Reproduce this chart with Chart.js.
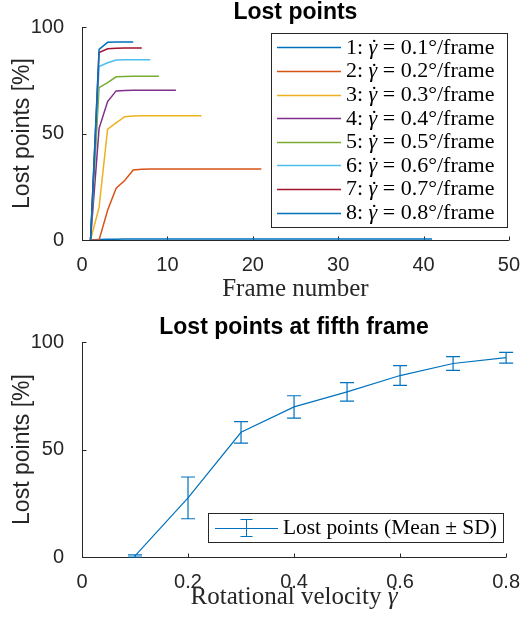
<!DOCTYPE html>
<html><head><meta charset="utf-8">
<script src="https://cdn.jsdelivr.net/npm/chart.js@4.4.0/dist/chart.umd.min.js"></script>
<style>
html,body{margin:0;padding:0;background:#fff;width:525px;height:626px;overflow:hidden}
canvas{position:absolute;left:0}
</style></head><body>
<canvas id="c1" width="525" height="313" style="top:0"></canvas>
<canvas id="c2" width="525" height="313" style="top:313px"></canvas>
<script>
// ---------- data ----------
const frameTicks = [0, 10, 20, 30, 40, 50];
const pctTicks = [0, 50, 100];
const velTicks = [0, 0.2, 0.4, 0.6, 0.8];
const seriesRates = ['0.1', '0.2', '0.3', '0.4', '0.5', '0.6', '0.7', '0.8'];
const lost01 = [0, 0.2, 0.3, 0.4, 0.5, 0.5, 0.5, 0.5, 0.5, 0.5, 0.5, 0.5, 0.5, 0.5, 0.5, 0.5, 0.5, 0.5, 0.5, 0.5,
                0.5, 0.5, 0.5, 0.5, 0.5, 0.5, 0.5, 0.5, 0.5, 0.5, 0.5, 0.5, 0.5, 0.5, 0.5, 0.5, 0.5, 0.5, 0.5, 0.5, 0.5];
const lost02 = [0, 0, 14, 24.3, 27.9, 32.9, 33.2, 33.3, 33.3, 33.3, 33.3, 33.3, 33.3, 33.3, 33.3, 33.3, 33.3, 33.3, 33.3, 33.3, 33.3];
const lost03 = [0, 15.3, 52, 55, 57.9, 58.2, 58.3, 58.3, 58.3, 58.3, 58.3, 58.3, 58.3, 58.3];
const lost04 = [0, 52.4, 65, 70, 70.2, 70.3, 70.3, 70.3, 70.3, 70.3, 70.3];
const lost05 = [0, 71.5, 73.9, 76.6, 76.8, 76.9, 76.9, 76.9, 76.9];
const lost06 = [0, 81.4, 83.2, 84.5, 84.6, 84.6, 84.6, 84.6];
const lost07 = [0, 88, 89.8, 90, 90.1, 90.1, 90.1];
const lost08 = [0, 89.5, 92.8, 93, 93, 93];
const lostSeries = [lost01, lost02, lost03, lost04, lost05, lost06, lost07, lost08];

const velocities = [0.1, 0.2, 0.3, 0.4, 0.5, 0.6, 0.7, 0.8];
const meanLost = [0.5, 27.5, 58, 69.8, 76.8, 84.4, 90, 92.7];
const sdLost = [0.5, 9.7, 5, 5.2, 4.3, 4.6, 3.2, 2.5];

// ---------- styles ----------
const colors = ['#0072BD', '#D95319', '#EDB120', '#7E2F8E', '#77AC30', '#4DBEEE', '#A2142F', '#0072BD'];
const AX = '#262626';
const SANS = '"Liberation Sans", Arial, sans-serif';
const SERIF = '"Liberation Serif", "Times New Roman", serif';

function drawRich(ctx, x, y, segs) {
  let cx = x;
  for (const s of segs) {
    if (s.g) {
      ctx.font = 'italic ' + s.size + 'px ' + SERIF;
      ctx.fillText('γ', cx, y);
      const w = ctx.measureText('γ').width;
      ctx.font = s.size + 'px ' + SERIF;
      const dw = ctx.measureText('˙').width;
      ctx.fillText('˙', cx + w / 2 - dw / 2 + s.size * 0.06, y + s.size * 0.02);
      cx += w;
    } else {
      ctx.font = s.font;
      ctx.fillText(s.t, cx, y);
      cx += ctx.measureText(s.t).width;
    }
  }
  return cx - x;
}
function richWidth(ctx, segs) {
  let w = 0;
  for (const s of segs) {
    if (s.g) { ctx.font = 'italic ' + s.size + 'px ' + SERIF; w += ctx.measureText('γ').width; }
    else { ctx.font = s.font; w += ctx.measureText(s.t).width; }
  }
  return w;
}

function axesPlugin(cfg) {
  return {
    id: 'matlabAxes',
    beforeDatasetsDraw(chart) {
      const ctx = chart.ctx, a = chart.chartArea;
      const xs = chart.scales.x, ys = chart.scales.y;
      ctx.save();
      ctx.strokeStyle = AX; ctx.lineWidth = 1;
      const b = Math.round(a.bottom) + 0.5, l = Math.round(a.left) + 0.5;
      ctx.beginPath();
      ctx.moveTo(a.left, b); ctx.lineTo(a.right, b);
      ctx.moveTo(l, a.top); ctx.lineTo(l, a.bottom + 0.5);
      cfg.xticks.forEach(v => { const px = Math.round(xs.getPixelForValue(v)) + 0.5; ctx.moveTo(px, b); ctx.lineTo(px, b - 4); });
      pctTicks.forEach(v => { const py = Math.round(ys.getPixelForValue(v)) + 0.5; ctx.moveTo(l, py); ctx.lineTo(l + 4, py); });
      ctx.stroke();
      ctx.restore();
    },
    afterDraw(chart) {
      const ctx = chart.ctx, a = chart.chartArea;
      const cx = (a.left + a.right) / 2;
      ctx.save();
      ctx.fillStyle = '#000';
      ctx.textAlign = 'center'; ctx.textBaseline = 'alphabetic';
      ctx.font = 'bold 23px ' + SANS;
      ctx.fillText(cfg.title, cx, cfg.titleY);
      // y title
      ctx.fillStyle = AX;
      ctx.save();
      ctx.translate(28.5, (a.top + a.bottom) / 2);
      ctx.rotate(-Math.PI / 2);
      ctx.font = '23px ' + SANS;
      ctx.fillText('Lost points [%]', 0, 0);
      ctx.restore();
      // x title
      ctx.textAlign = 'left';
      const w = richWidth(ctx, cfg.xTitle);
      drawRich(ctx, cx - w / 2, cfg.xTitleY, cfg.xTitle);
      ctx.restore();
      if (cfg.legend) cfg.legend(chart);
    }
  };
}

function baseOptions(cfg) {
  return {
    responsive: false, animation: false, devicePixelRatio: 1,
    layout: { padding: { top: cfg.top, right: 15, left: 0, bottom: 0 } },
    plugins: { legend: { display: false }, tooltip: { enabled: false } },
    elements: { point: { radius: 0 } },
    scales: {
      x: {
        type: 'linear', min: cfg.xmin, max: cfg.xmax,
        grid: { display: false }, border: { display: false },
        afterBuildTicks: s => { s.ticks = cfg.xticks.map(v => ({ value: v })); },
        afterFit: s => { s.height = cfg.xh; },
        ticks: { padding: cfg.xpad, color: AX, font: { family: SANS, size: 20 }, maxRotation: 0, autoSkip: false, callback: v => String(v) }
      },
      y: {
        type: 'linear', min: 0, max: 100,
        grid: { display: false }, border: { display: false },
        afterBuildTicks: s => { s.ticks = pctTicks.map(v => ({ value: v })); },
        afterFit: s => { s.width = 82; },
        ticks: { padding: 10, color: AX, font: { family: SANS, size: 20 }, autoSkip: false, callback: v => String(v) }
      }
    }
  };
}

// ---------- chart 1 ----------
const legendTop = chart => {
  const ctx = chart.ctx;
  ctx.save();
  ctx.fillStyle = '#fff'; ctx.fillRect(271, 33, 237, 195);
  ctx.strokeStyle = AX; ctx.lineWidth = 1;
  ctx.strokeRect(271.5, 33.5, 236, 194);
  seriesRates.forEach((r, i) => {
    const y = 47.3 + i * 23.6;
    ctx.strokeStyle = colors[i]; ctx.lineWidth = 1.3;
    ctx.beginPath(); ctx.moveTo(277, Math.round(y) + 0.5); ctx.lineTo(341, Math.round(y) + 0.5); ctx.stroke();
    ctx.fillStyle = '#000'; ctx.textAlign = 'left'; ctx.textBaseline = 'alphabetic';
    drawRich(ctx, 346, y + 6.5, [
      { t: (i + 1) + ': ', font: '22px ' + SERIF },
      { g: true, size: 22 },
      { t: ' = ' + r + '°/frame', font: '22px ' + SERIF }
    ]);
  });
  ctx.restore();
};

new Chart(document.getElementById('c1'), {
  type: 'line',
  data: {
    datasets: lostSeries.map((arr, i) => ({
      label: (i + 1) + ': ' + seriesRates[i],
      data: arr.map((v, k) => ({ x: k + 1, y: v })),
      borderColor: colors[i], backgroundColor: colors[i],
      borderWidth: 1.5, pointRadius: 0, tension: 0, fill: false,
      order: lostSeries.length - i
    }))
  },
  options: baseOptions({ top: 27, xmin: 0, xmax: 50, xticks: frameTicks, xh: 73, xpad: 5 }),
  plugins: [axesPlugin({
    title: 'Lost points', titleY: 18.5, xticks: frameTicks,
    xTitle: [{ t: 'Frame number', font: '25px ' + SERIF }], xTitleY: 296,
    legend: legendTop
  })]
});

// ---------- chart 2 ----------
const errorBars = {
  id: 'errorBars',
  afterDatasetsDraw(chart) {
    const ctx = chart.ctx, xs = chart.scales.x, ys = chart.scales.y;
    ctx.save();
    ctx.strokeStyle = colors[0]; ctx.lineWidth = 1.2;
    ctx.beginPath();
    velocities.forEach((v, i) => {
      const px = xs.getPixelForValue(v);
      const y1 = ys.getPixelForValue(meanLost[i] + sdLost[i]);
      const y2 = ys.getPixelForValue(meanLost[i] - sdLost[i]);
      ctx.moveTo(px, y1); ctx.lineTo(px, y2);
      ctx.moveTo(px - 7, y1); ctx.lineTo(px + 7, y1);
      ctx.moveTo(px - 7, y2); ctx.lineTo(px + 7, y2);
    });
    ctx.stroke();
    ctx.restore();
  }
};
const legendBottom = chart => {
  const ctx = chart.ctx;
  ctx.save();
  ctx.fillStyle = '#fff'; ctx.fillRect(208, 200, 296, 30);
  ctx.strokeStyle = AX; ctx.lineWidth = 1;
  ctx.strokeRect(208.5, 200.5, 295, 29);
  ctx.strokeStyle = colors[0]; ctx.lineWidth = 1;
  ctx.beginPath();
  ctx.moveTo(215, 215.5); ctx.lineTo(278, 215.5);
  ctx.moveTo(246.5, 206); ctx.lineTo(246.5, 224);
  ctx.moveTo(240.5, 206.5); ctx.lineTo(252.5, 206.5);
  ctx.moveTo(240.5, 223.5); ctx.lineTo(252.5, 223.5);
  ctx.stroke();
  ctx.fillStyle = '#000'; ctx.textAlign = 'left'; ctx.textBaseline = 'alphabetic';
  ctx.font = '21.4px ' + SERIF;
  ctx.fillText('Lost points (Mean ± SD)', 283, 221);
  ctx.restore();
};

new Chart(document.getElementById('c2'), {
  type: 'line',
  data: {
    datasets: [{
      label: 'Lost points (Mean ± SD)',
      data: velocities.map((v, i) => ({ x: v, y: meanLost[i] })),
      borderColor: colors[0], backgroundColor: colors[0],
      borderWidth: 1.2, pointRadius: 0, tension: 0, fill: false
    }]
  },
  options: baseOptions({ top: 29, xmin: 0, xmax: 0.8, xticks: velTicks, xh: 69, xpad: 5 }),
  plugins: [errorBars, axesPlugin({
    title: 'Lost points at fifth frame', titleY: 21, xticks: velTicks,
    xTitle: [{ t: 'Rotational velocity ', font: '25px ' + SERIF }, { g: true, size: 25 }], xTitleY: 290.5,
    legend: legendBottom
  })]
});
</script>
</body></html>
